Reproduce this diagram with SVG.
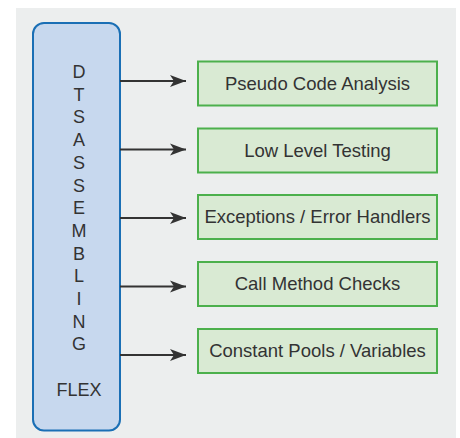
<svg xmlns="http://www.w3.org/2000/svg" width="460" height="438" viewBox="0 0 460 438">
<style>
text{font-family:"Liberation Sans",Arial,sans-serif;fill:#333333;text-anchor:middle}
.lbl{font-size:18.5px}
.vt{font-size:18px}
.box{fill:#d9ead3;stroke:#4cb04c;stroke-width:2}
.edge{stroke:#333333;stroke-width:2;fill:none}
</style>
<defs>
<marker id="ah" markerUnits="userSpaceOnUse" markerWidth="18" markerHeight="14" refX="16" refY="7" orient="auto">
<path d="M0,1 L16,7 L0,13 L4,7 Z" fill="#333333"/>
</marker>
</defs>
<rect x="16" y="8" width="440" height="430" fill="#eceeee"/>
<g id="flex">
<rect x="33" y="23" width="87" height="407.5" rx="11" ry="11" fill="#c7d8ee" stroke="#1a6fb5" stroke-width="2"/>
<text class="vt" x="79" y="78">D</text>
<text class="vt" x="79" y="100.7">T</text>
<text class="vt" x="79" y="123.4">S</text>
<text class="vt" x="79" y="146.1">A</text>
<text class="vt" x="79" y="168.8">S</text>
<text class="vt" x="79" y="191.5">S</text>
<text class="vt" x="79" y="214.2">E</text>
<text class="vt" x="79" y="236.9">M</text>
<text class="vt" x="79" y="259.6">B</text>
<text class="vt" x="79" y="282.3">L</text>
<text class="vt" x="79" y="305">I</text>
<text class="vt" x="79" y="327.7">N</text>
<text class="vt" x="79" y="350.4">G</text>
<text class="vt" x="79" y="396">FLEX</text>
</g>
<g id="connectors">
<line class="edge" x1="120" y1="81" x2="186" y2="81" marker-end="url(#ah)"/>
<line class="edge" x1="120" y1="149.5" x2="186" y2="149.5" marker-end="url(#ah)"/>
<line class="edge" x1="120" y1="218" x2="186" y2="218" marker-end="url(#ah)"/>
<line class="edge" x1="120" y1="286.5" x2="186" y2="286.5" marker-end="url(#ah)"/>
<line class="edge" x1="120" y1="355" x2="186" y2="355" marker-end="url(#ah)"/>
</g>
<g id="n1"><rect class="box" x="198" y="61.5" width="239" height="44"/><text class="lbl" x="317.5" y="89.5">Pseudo Code Analysis</text></g>
<g id="n2"><rect class="box" x="198" y="128.5" width="239" height="44"/><text class="lbl" x="317.5" y="156.5">Low Level Testing</text></g>
<g id="n3"><rect class="box" x="198" y="195" width="239" height="44"/><text class="lbl" x="317.5" y="223">Exceptions / Error Handlers</text></g>
<g id="n4"><rect class="box" x="198" y="262" width="239" height="44"/><text class="lbl" x="317.5" y="290">Call Method Checks</text></g>
<g id="n5"><rect class="box" x="198" y="329" width="239" height="44"/><text class="lbl" x="317.5" y="357">Constant Pools / Variables</text></g>
</svg>
